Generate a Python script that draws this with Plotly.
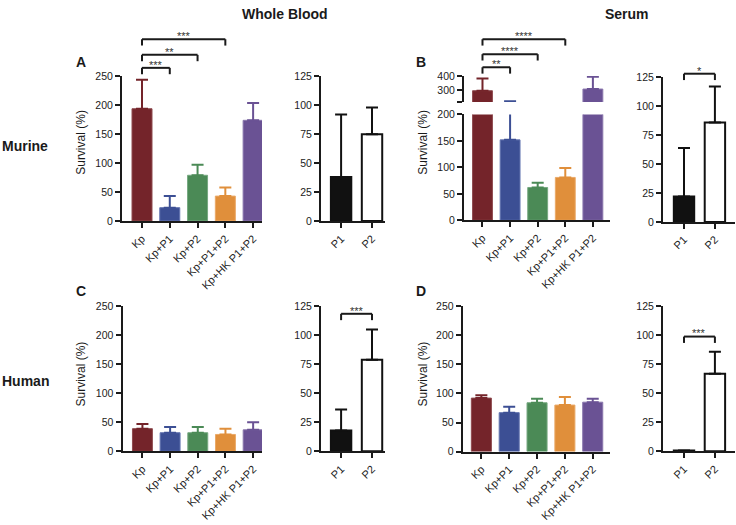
import plotly.graph_objects as go

W, H = 736, 525

# ---------------- data ----------------
cats5 = ["Kp", "Kp+P1", "Kp+P2", "Kp+P1+P2", "Kp+HK P1+P2"]
cats2 = ["P1", "P2"]
colors5 = ["#74242a", "#3c4f94", "#4b8a56", "#e08f3b", "#6a5294"]
edges5 = ["#8e4a4f", "#6475b0", "#76a880", "#eaa968", "#8a77ad"]

mur_wb_vals = [194, 23, 79, 43, 174]
mur_wb_tops = [244, 43, 97, 58, 204]
mur_wb_p_vals = [38, 75]
mur_wb_p_tops = [92, 98]

mur_se_vals = [295, 152, 62, 81, 307]
mur_se_tops = [382, 220, 71, 99, 395]
mur_se_p_vals = [22, 86]
mur_se_p_tops = [64, 117]

hum_wb_vals = [39, 32, 32, 29, 37]
hum_wb_tops = [47, 42, 42, 39, 50]
hum_wb_p_vals = [18, 79]
hum_wb_p_tops = [36, 105]

hum_se_vals = [92, 67, 84, 80, 85]
hum_se_tops = [97, 77, 91, 94, 91]
hum_se_p_vals = [0.6, 67]
hum_se_p_tops = [0.6, 86]

ticks250 = [0, 50, 100, 150, 200, 250]
ticks125 = [0, 25, 50, 75, 100, 125]
ticks_low = [0, 50, 100, 150, 200]
ticks_up = [214, 300, 400]
ticks_up_text = ["", "300", "400"]

# ---------------- helpers ----------------
FONT = "Liberation Sans, Arial, Helvetica, sans-serif"
INK = "#1a1a1a"


def fx(p):
    return p / W


def fy(p):
    return 1 - p / H


fig = go.Figure()
layout = {}


def add_axes(i, xpx, ypx, xr, cats, yr, tickvals, ticktext=None, showx=True):
    xname = "xaxis" if i == 1 else f"xaxis{i}"
    yname = "yaxis" if i == 1 else f"yaxis{i}"
    common = dict(showline=True, linecolor=INK, linewidth=2, ticks="outside",
                  ticklen=5, tickwidth=2, tickcolor=INK, showgrid=False,
                  zeroline=False, fixedrange=True)
    xa = dict(common, domain=[fx(xpx[0]), fx(xpx[1])], anchor=f"y{i}",
              type="category", categoryorder="array", categoryarray=cats,
              range=xr, tickangle=-45,
              tickfont=dict(family=FONT, size=11, color="#222"))
    if not showx:
        xa.update(visible=False)
    ya = dict(common, domain=[fy(ypx[1]), fy(ypx[0])], anchor=f"x{i}",
              range=yr, tickvals=tickvals,
              tickfont=dict(family=FONT, size=10.5, color="#222"))
    if ticktext is not None:
        ya["ticktext"] = ticktext
    layout[xname] = xa
    layout[yname] = ya


def add_bars5(i, vals, tops, bw):
    for k, c in enumerate(cats5):
        fig.add_trace(go.Bar(
            x=[c], y=[vals[k]], width=bw,
            marker=dict(color=colors5[k], line=dict(color=edges5[k], width=1)),
            error_y=dict(type="data", symmetric=False, array=[tops[k] - vals[k]],
                         arrayminus=[0], color=colors5[k], thickness=2, width=6),
            xaxis=f"x{i}", yaxis=f"y{i}", showlegend=False, hoverinfo="skip"))


def add_bars2(i, vals, tops, bw):
    fills = ["#111111", "#ffffff"]
    for k, c in enumerate(cats2):
        fig.add_trace(go.Bar(
            x=[c], y=[vals[k]], width=bw,
            marker=dict(color=fills[k], line=dict(color="#111111", width=2)),
            error_y=dict(type="data", symmetric=False, array=[tops[k] - vals[k]],
                         arrayminus=[0], color="#111111", thickness=2, width=6),
            xaxis=f"x{i}", yaxis=f"y{i}", showlegend=False, hoverinfo="skip"))


BW5 = 0.72
BW2 = 0.66

# A (murine whole blood)
add_axes(1, (122, 262), (72, 220), [-0.72, 4.32], cats5, [0, 250], ticks250)
add_bars5(1, mur_wb_vals, mur_wb_tops, BW5)
add_axes(2, (321, 385), (72, 220), [-0.65, 1.42], cats2, [0, 125], ticks125)
add_bars2(2, mur_wb_p_vals, mur_wb_p_tops, BW2)

# B (murine serum) with broken axis
add_axes(3, (464, 610), (111, 219.3), [-0.67, 4.62], cats5, [0, 200], ticks_low)
add_bars5(3, mur_se_vals, mur_se_tops, BW5)
add_axes(4, (464, 610), (71.7, 98.3), [-0.67, 4.62], cats5, [214, 400],
         ticks_up, ticks_up_text, showx=False)
add_bars5(4, mur_se_vals, mur_se_tops, BW5)
add_axes(5, (663, 735), (73, 221), [-0.68, 1.65], cats2, [0, 125], ticks125)
add_bars2(5, mur_se_p_vals, mur_se_p_tops, BW2)

# C (human whole blood)
add_axes(6, (122.5, 262), (307.3, 455.7), [-0.72, 4.32], cats5, [0, 250], ticks250)
add_bars5(6, hum_wb_vals, hum_wb_tops, BW5)
add_axes(7, (321, 385), (307.3, 455.7), [-0.65, 1.42], cats2, [0, 125], ticks125)
add_bars2(7, hum_wb_p_vals, hum_wb_p_tops, BW2)

# D (human serum)
add_axes(8, (462.7, 610), (307.3, 456), [-0.67, 4.62], cats5, [0, 250], ticks250)
add_bars5(8, hum_se_vals, hum_se_tops, BW5)
add_axes(9, (663, 735), (307.5, 455.7), [-0.68, 1.65], cats2, [0, 125], ticks125)
add_bars2(9, hum_se_p_vals, hum_se_p_tops, BW2)

# ---------------- brackets ----------------
shapes = []
annotations = []


def bracket(i, c0, c1, py, label, drop=6.5):
    xr = f"x{i}"
    line = dict(color=INK, width=2)
    shapes.append(dict(type="line", xref=xr, yref="paper", x0=c0, x1=c1,
                       y0=fy(py), y1=fy(py), line=line))
    for c in (c0, c1):
        shapes.append(dict(type="line", xref=xr, yref="paper", x0=c, x1=c,
                           y0=fy(py), y1=fy(py + drop), line=line))
    annotations.append(dict(x=(c0 + c1) / 2, xref=xr, y=fy(py + 5), yref="paper",
                            text=label, showarrow=False, yanchor="bottom",
                            font=dict(family=FONT, size=11, color="#333")))


bracket(1, 0, 1, 63.3, "***")
bracket(1, 0, 2, 50, "**")
bracket(1, 0, 3, 34, "***")
bracket(3, 0, 1, 62.7, "**")
bracket(3, 0, 2, 49.3, "****")
bracket(3, 0, 3, 34, "****")
bracket(5, 0, 1, 69.3, "*")
bracket(7, 0, 1, 315, "***")
bracket(9, 0, 1, 338.3, "***")


def text(x, y, s, size, bold=False, angle=0):
    annotations.append(dict(x=fx(x), y=fy(y), xref="paper", yref="paper",
                            text=f"<b>{s}</b>" if bold else s, showarrow=False,
                            textangle=angle, xanchor="center", yanchor="middle",
                            font=dict(family=FONT, size=size, color="#1a1a1a")))


text(285, 8, "Whole Blood", 14, bold=True)
text(627, 8, "Serum", 14, bold=True)
text(25, 143, "Murine", 14, bold=True)
text(25, 384, "Human", 14, bold=True)
text(81, 57.5, "A", 14, bold=True)
text(421, 57.5, "B", 14, bold=True)
text(81, 292, "C", 14, bold=True)
text(421, 292, "D", 14, bold=True)
text(81, 140, "Survival (%)", 12, angle=-90)
text(423, 140, "Survival (%)", 12, angle=-90)
text(81, 377, "Survival (%)", 12, angle=-90)
text(423, 377, "Survival (%)", 12, angle=-90)

fig.update_layout(
    width=W, height=H, autosize=False,
    margin=dict(l=0, r=0, t=0, b=0),
    paper_bgcolor="white", plot_bgcolor="rgba(0,0,0,0)",
    barmode="overlay", showlegend=False,
    shapes=shapes, annotations=annotations,
    **layout,
)

fig.write_html("out.html",
               config={"displayModeBar": False, "staticPlot": True},
               post_script="document.body.style.margin='0px';document.body.style.overflow='hidden';")
